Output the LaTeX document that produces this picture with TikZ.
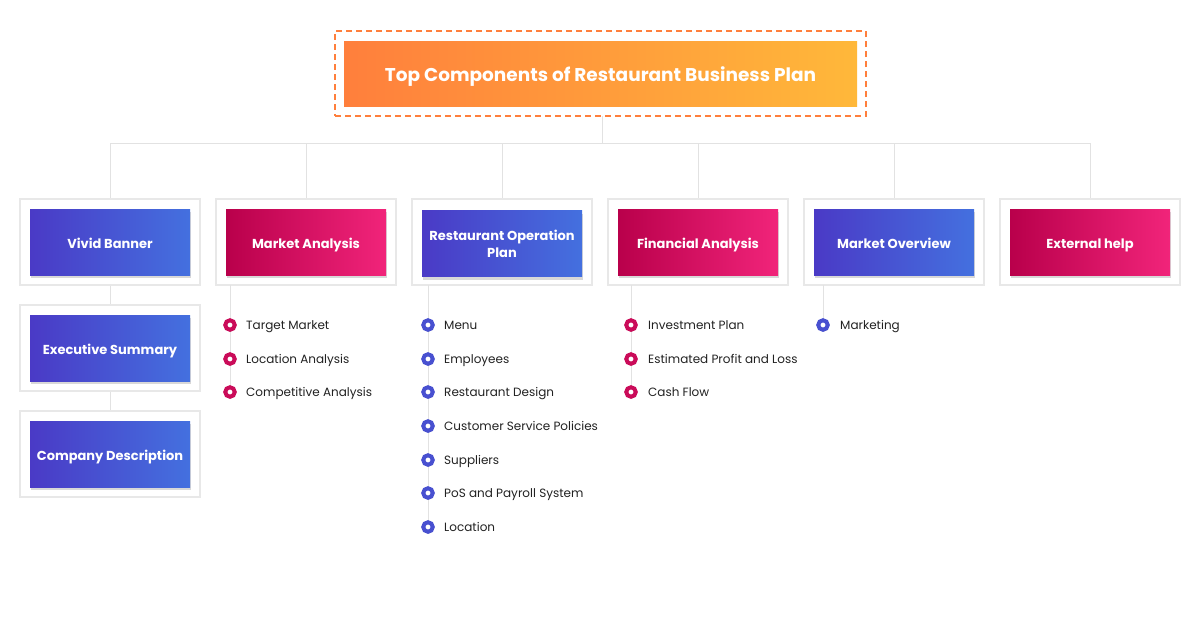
\documentclass[tikz,border=0pt]{standalone}
\usepackage{fontspec}
\setmainfont{Poppins}
\usetikzlibrary{shadows,positioning}
\definecolor{lineg}{HTML}{E2E2E2}
\definecolor{boxg}{HTML}{E8E8E8}
\definecolor{orA}{HTML}{FF7F3C}
\definecolor{orB}{HTML}{FFB83A}
\definecolor{blA}{HTML}{4A3AC6}
\definecolor{blB}{HTML}{4470DF}
\definecolor{pkA}{HTML}{B9004B}
\definecolor{pkB}{HTML}{F1247A}
\definecolor{txt}{HTML}{222222}
\tikzset{
  outerbox/.style={draw=boxg, line width=1.3pt, minimum width=180pt, minimum height=86pt, inner sep=0pt},
  innerbase/.style={minimum width=160pt, minimum height=66pt, inner sep=0pt, align=center,
    text=white, font=\fontsize{13}{17}\selectfont\bfseries,
    drop shadow={shadow xshift=1pt, shadow yshift=-3pt, opacity=0.25, fill=black!60}},
  oneline/.style={text height=13.5pt, text depth=1pt},
  bluebox/.style={innerbase, left color=blA, right color=blB},
  pinkbox/.style={innerbase, left color=pkA, right color=pkB},
  conn/.style={draw=lineg, line width=0.9pt},
  ringbase/.style={circle, fill=white, line width=4pt, minimum size=9.5pt, inner sep=0pt,
    drop shadow={shadow xshift=0.5pt, shadow yshift=-2pt, opacity=0.2, fill=black}},
  pinkring/.style={ringbase, draw=pkA!70!pkB},
  bluering/.style={ringbase, draw=blA!60!blB},
  item/.style={anchor=west, inner sep=0pt, text height=10pt, text depth=2pt, text=txt, font=\fontsize{12}{14}\selectfont}
}
\begin{document}
\begin{tikzpicture}[x=1pt,y=-1pt]
\useasboundingbox[fill=white] (0,0) rectangle (1200,630);
% title
\node[draw=orA, dashed, dash pattern=on 6pt off 4pt, line width=1.6pt, minimum width=531pt, minimum height=85pt, inner sep=0pt] (tout) at (600.5,73.5) {};
\node[left color=orA, right color=orB, minimum width=513pt, minimum height=65pt, inner sep=0pt, text=white,
  text height=16.5pt, text depth=1pt,
  font=\fontsize{18.5}{22}\selectfont\bfseries] (title) at (600.5,73.5) {Top Components of Restaurant Business Plan};
\coordinate (hub) at (602,143);
\coordinate (tbot) at (602,116);
% columns
\foreach \n/\x in {1/110,2/306,3/502,4/698,5/894,6/1090}{
  \node[outerbox] (c\n) at (\x,242) {};
}
\node[bluebox, oneline] (i1) at (c1) {Vivid Banner};
\node[pinkbox, oneline] (i2) at (c2) {Market Analysis};
\node[bluebox] (i3) at (502,243.5) {Restaurant Operation\\Plan};
\node[pinkbox, oneline] (i4) at (c4) {Financial Analysis};
\node[bluebox, oneline] (i5) at (c5) {Market Overview};
\node[pinkbox, oneline] (i6) at (c6) {External help};
\node[outerbox] (c1b) at (110,348) {};
\node[bluebox, oneline] (i1b) at (c1b) {Executive Summary};
\node[outerbox] (c1c) at (110,454) {};
\node[bluebox, oneline] (i1c) at (c1c) {Company Description};
% connectors
\draw[conn] (tbot) -- (hub);
\foreach \n in {1,...,6}{ \draw[conn] (hub) -| (c\n.north); }
\draw[conn] (c1.south) -- (c1b.north);
\draw[conn] (c1b.south) -- (c1c.north);
% bullet list lines
\coordinate (l2) at (230,285);
\coordinate (l3) at (428,285);
\coordinate (l4) at (631,285);
\coordinate (l5) at (823,285);
\coordinate (e2) at (230,392);
\coordinate (e3) at (428,527);
\coordinate (e4) at (631,392);
\coordinate (e5) at (823,325);
\foreach \n in {2,3,4,5}{ \draw[conn] (l\n) -- (e\n); }
% column 2 items
\foreach \k/\y/\t in {1/325/Target Market,2/359/Location Analysis,3/392/Competitive Analysis}{
  \node[pinkring] (b2\k) at (230,\y) {};
  \node[item] (t2\k) at (246,\y) {\t};
}
% column 3 items
\foreach \k/\y/\t in {1/325/Menu,2/359/Employees,3/392/Restaurant Design,4/426/Customer Service Policies,5/460/Suppliers,6/493/PoS and Payroll System,7/527/Location}{
  \node[bluering] (b3\k) at (428,\y) {};
  \node[item] (t3\k) at (444,\y) {\t};
}
% column 4 items
\foreach \k/\y/\t in {1/325/Investment Plan,2/359/Estimated Profit and Loss,3/392/Cash Flow}{
  \node[pinkring] (b4\k) at (631,\y) {};
  \node[item] (t4\k) at (648,\y) {\t};
}
% column 5 items
\node[bluering] (b51) at (823,325) {};
\node[item] (t51) at (840,325) {Marketing};
\end{tikzpicture}
\end{document}
